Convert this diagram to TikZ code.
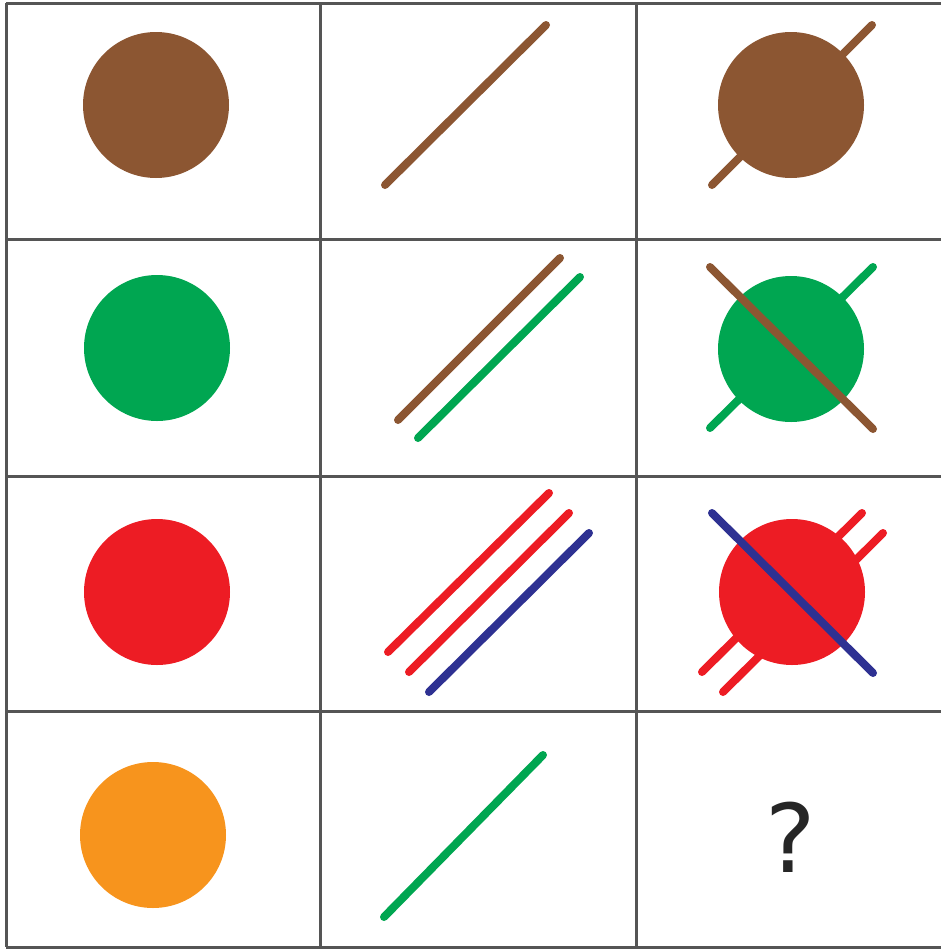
\documentclass[tikz,border=0pt]{standalone}
\usepackage{fontspec}
\setmainfont{DejaVu Sans}
\definecolor{cbrown}{RGB}{140,86,50}
\definecolor{cgreen}{RGB}{0,166,81}
\definecolor{cred}{RGB}{237,28,36}
\definecolor{cblue}{RGB}{46,49,146}
\definecolor{corange}{RGB}{247,148,29}
\definecolor{cgrid}{RGB}{85,85,85}

\begin{document}
\begin{tikzpicture}[
  x=0.3mm, y=-0.3mm,
  gridline/.style={draw=cgrid, line width=0.9mm},
  stroke/.style={line width=2.4mm, line cap=round},
  disc/.style={circle, inner sep=0pt, minimum size=43.8mm}
]
\useasboundingbox (0,0) rectangle (941,951);

% grid
\foreach \y in {3,239,476,711,947}
  \draw[gridline] (6,\y) -- (941,\y);
\foreach \x in {6,320,636}
  \draw[gridline] (\x,3) -- (\x,947);

% row 1
\node[disc, fill=cbrown] (brownA) at (156,105) {};
\draw[stroke, cbrown] (385,185) -- (546,25);
\node[disc, fill=cbrown] (brownB) at (791,105) {};
\draw[stroke, cbrown] (712,185) -- (872,25);

% row 2
\node[disc, fill=cgreen] (greenA) at (157,348) {};
\draw[stroke, cbrown] (398,420) -- (560,258);
\draw[stroke, cgreen] (418,438) -- (580,277);
\node[disc, fill=cgreen] (greenB) at (791,349) {};
\draw[stroke, cgreen] (710,428) -- (873,267);
\draw[stroke, cbrown] (710,267) -- (873,429);

% row 3
\node[disc, fill=cred] (redA) at (157,592) {};
\draw[stroke, cred] (388,652) -- (549,493);
\draw[stroke, cred] (409,672) -- (569,513);
\draw[stroke, cblue] (429,692) -- (589,533);
\node[disc, fill=cred] (redB) at (792,592) {};
\draw[stroke, cred] (702,672) -- (862,513);
\draw[stroke, cred] (723,692) -- (883,533);
\draw[stroke, cblue] (712,513) -- (873,673);

% row 4
\node[disc, fill=corange] (orangeA) at (153,835) {};
\draw[stroke, cgreen] (384,917) -- (543,755);
\node[font=\fontsize{81}{90}\selectfont, text=black!85] (ask) at (791,837) {?};
\end{tikzpicture}
\end{document}
